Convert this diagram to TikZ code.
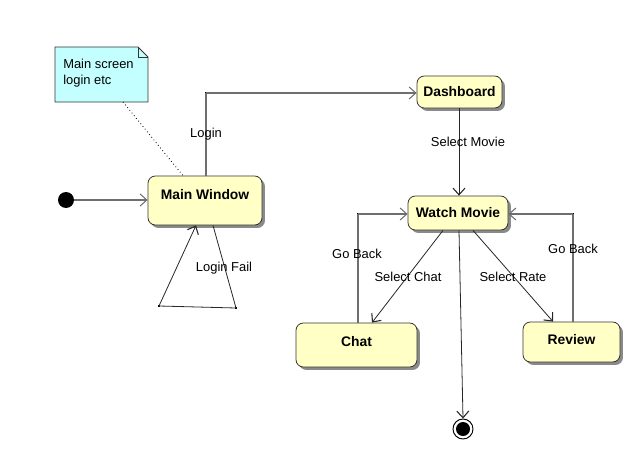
\documentclass[tikz,border=0pt]{standalone}
\usepackage{fontspec}
\setmainfont{Liberation Sans}
\usetikzlibrary{arrows.meta,shadows}
\definecolor{statefill}{HTML}{FFFFC6}
\definecolor{notefill}{HTML}{C4FFFF}
\definecolor{linegray}{HTML}{6E6E6E}
\definecolor{shadowgray}{HTML}{8A8A8A}
\tikzset{
  statebox/.style={draw=black!80, fill=statefill, rounded corners=5.5pt, line width=0.6pt,
    drop shadow={shadow xshift=2.2pt, shadow yshift=-2.2pt, fill=shadowgray, opacity=1},
    font=\fontsize{10.4pt}{12pt}\selectfont\bfseries, inner sep=0pt},
  trans/.style={draw=linegray, line width=1.1pt, -{Straight Barb[length=5pt,width=9pt,line width=0.8pt]}},
  thintrans/.style={draw=black!85, line width=0.6pt, -{Straight Barb[length=5pt,width=9pt,line width=0.8pt]}},
  lbl/.style={font=\fontsize{9.7pt}{11.5pt}\selectfont, inner sep=0pt},
  bendpt/.style={fill=black, inner sep=0pt, minimum size=2.2pt, rectangle}
}
\begin{document}
\begin{tikzpicture}[x=0.75pt,y=-0.75pt]
\useasboundingbox (0,0) rectangle (635,453);
% note
\draw[fill=notefill, draw=black!80, line width=0.6pt] (55,47) -- (138,47) -- (148,57) -- (148,102) -- (55,102) -- cycle;
\draw[draw=black!80, line width=0.6pt] (138,47) -- (138,57) -- (148,57);
\node[lbl, anchor=west, align=left] (note) at (63,73.5) {Main screen\\[0.5pt]login etc};
% states
\node[statebox, minimum width=114*0.75pt, minimum height=49*0.75pt] (main) at (205,200.5) {\raisebox{9pt}{Main Window}};
\node[statebox, minimum width=85*0.75pt, minimum height=32*0.75pt] (dash) at (459.5,92) {Dashboard};
\node[statebox, minimum width=100*0.75pt, minimum height=34*0.75pt] (watch) at (458,213) {\raisebox{0.8pt}{Watch Movie}};
\node[statebox, minimum width=121*0.75pt, minimum height=44*0.75pt] (chat) at (356.5,345) {\raisebox{6pt}{Chat}};
\node[statebox, minimum width=97*0.75pt, minimum height=40*0.75pt] (review) at (571.5,342) {\raisebox{3.3pt}{Review}};
% initial and final
\node[circle, fill=black, minimum size=16*0.75pt, inner sep=0pt] (init) at (66,200) {};
\node[circle, draw=black, line width=0.7pt, fill=white, minimum size=20*0.75pt, inner sep=0pt] (fin) at (463,429) {};
\node[circle, fill=black, minimum size=14*0.75pt, inner sep=0pt] (fininner) at (463,429) {};
% note anchor line
\draw[dotted, line width=0.6pt] (123,102) -- (main.north -| 183,0);
% bends
\node[bendpt] (b1) at (206,93) {};
\node[bendpt] (b2) at (358,214) {};
\node[bendpt] (b3) at (573,214) {};
\node[bendpt] (b4) at (159,306) {};
\node[bendpt] (b5) at (236,308) {};
% transitions
\draw[trans] (init) -- (main.west |- init);
\draw[trans, -] (main.north -| b1) -- (b1.center);
\draw[trans] (b1.center) -- (dash.west |- b1);
\draw[thintrans] (dash.south -| 459,0) -- (watch.north -| 459,0);
\draw[thintrans] (watch.south -| 443,0) -- (chat.north -| 372,0);
\draw[thintrans] (watch.south -| 473,0) -- (review.north -| 553,0);
\draw[thintrans] (watch.south -| 459,0) -- (fin.north);
\draw[trans, -] (chat.north -| b2) -- (b2.center);
\draw[trans] (b2.center) -- (watch.west |- b2);
\draw[trans, -] (review.north -| b3) -- (b3.center);
\draw[trans] (b3.center) -- (watch.east |- b3);
\draw[thintrans, -] (main.south -| 213,0) -- (b5.center) -- (b4.center);
\draw[thintrans] (b4.center) -- (main.south -| 196,0);
% labels
\node[lbl] (lLogin) at (206,134) {Login};
\node[lbl] (lSelMovie) at (468,142) {Select Movie};
\node[lbl] (lFail) at (224,268) {Login Fail};
\node[lbl] (lGB1) at (357,254) {Go Back};
\node[lbl] (lGB2) at (573,249) {Go Back};
\node[lbl] (lChat) at (408,277) {Select Chat};
\node[lbl] (lRate) at (513,277) {Select Rate};
\end{tikzpicture}
\end{document}
